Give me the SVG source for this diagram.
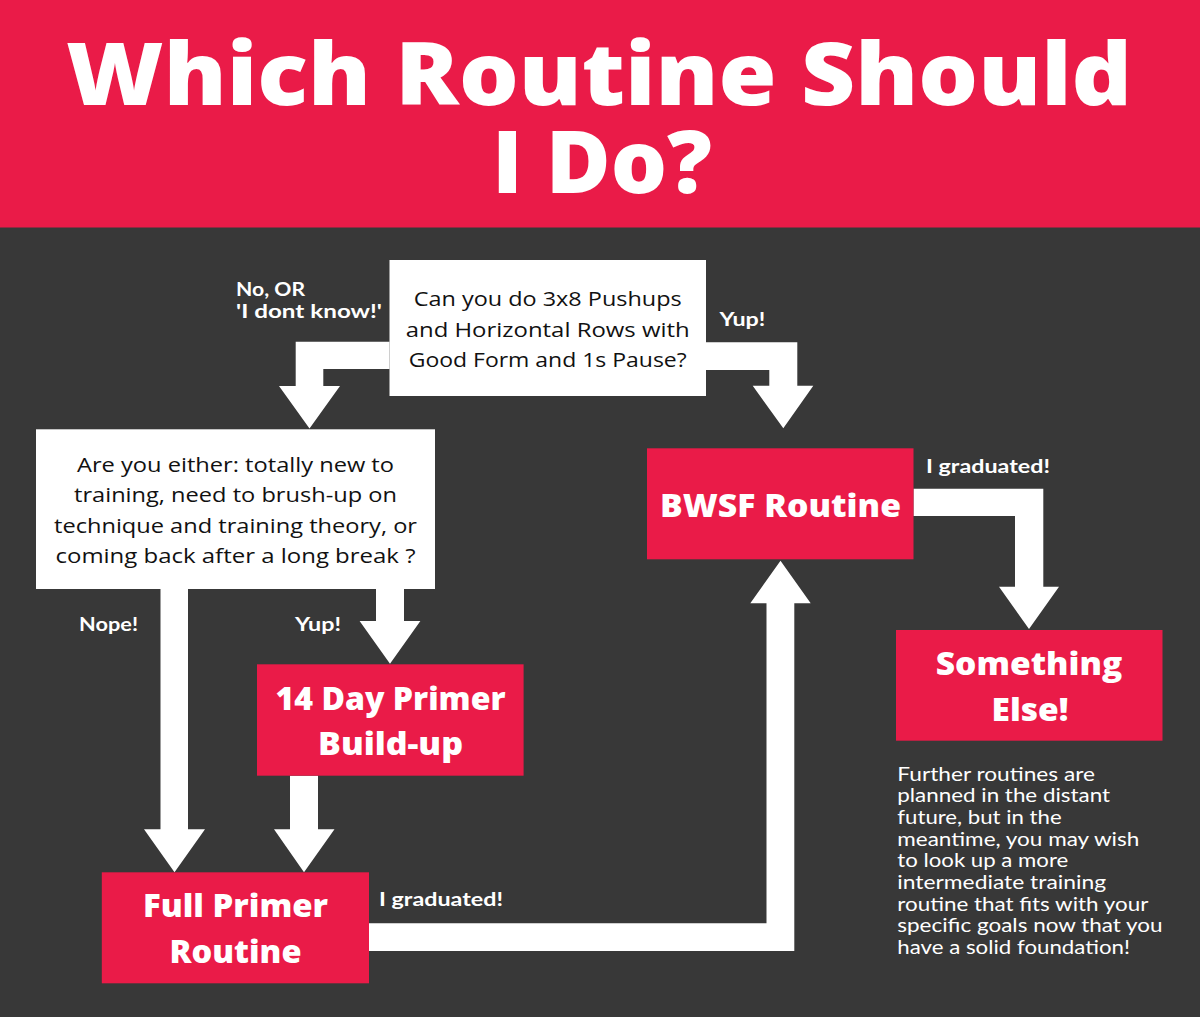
<svg xmlns="http://www.w3.org/2000/svg" width="1200" height="1017" viewBox="0 0 1200 1017">
<style>
.title{font-family:"Open Sans","Liberation Sans",sans-serif;font-weight:800;font-size:87px;fill:#fff;text-anchor:middle}
.q{font-family:"Open Sans","Liberation Sans",sans-serif;font-weight:500;font-size:20px;fill:#111;text-anchor:middle}
.n{font-family:"Open Sans","Liberation Sans",sans-serif;font-weight:800;font-size:31px;fill:#fff;text-anchor:middle}
.lbl{font-family:Lato,"Liberation Sans",sans-serif;font-weight:700;font-size:19px;fill:#fff}
.lbl2{font-family:Lato,"Liberation Sans",sans-serif;font-weight:700;font-size:18px;fill:#fff}
.desc{font-family:Lato,"Liberation Sans",sans-serif;font-weight:400;font-size:19.5px;fill:#fff}
.red{fill:#EA1B48}
.white{fill:#fff}
.conn{fill:#fff}
</style>
<rect x="0" y="0" width="1200" height="1017" fill="#383838"/>
<g id="header">
<rect x="0" y="0" width="1200" height="227.5" class="red"/>
<text class="title"><tspan x="599" y="105" textLength="1066" lengthAdjust="spacingAndGlyphs">Which Routine Should</tspan><tspan x="602" y="193" textLength="220" lengthAdjust="spacingAndGlyphs">I Do?</tspan></text>
</g>
<g id="connectors">
<polygon class="conn" points="389.5,341.7 295.7,341.7 295.7,386 279,386 309.5,428.5 340,386 323.3,386 323.3,369 389.5,369"/>
<polygon class="conn" points="706,342.3 797.3,342.3 797.3,385.7 813.3,385.7 783.3,428.3 752.7,385.7 769.3,385.7 769.3,370 706,370"/>
<polygon class="conn" points="160.5,589 188,589 188,829.3 205,829.3 174.5,872.3 144,829.3 160.5,829.3"/>
<polygon class="conn" points="376,589 404,589 404,621 420.4,621 390,663.7 359.6,621 376,621"/>
<polygon class="conn" points="290,775.7 318,775.7 318,829.3 334.5,829.3 304,872.3 274,829.3 290,829.3"/>
<polygon class="conn" points="369,923.3 766.5,923.3 766.5,603.3 750.3,603.3 780.5,560.7 810.7,603.3 794.3,603.3 794.3,951 369,951"/>
<polygon class="conn" points="913.5,488.7 1043.3,488.7 1043.3,586.7 1059,586.7 1029,629 999,586.7 1015,586.7 1015,516 913.5,516"/>
</g>
<g id="q1">
<rect x="389.5" y="260" width="316.5" height="136" class="white"/>
<text class="q" x="547.7" y="306" textLength="268" lengthAdjust="spacingAndGlyphs">Can you do 3x8 Pushups</text>
<text class="q" x="547.7" y="336.5" textLength="284" lengthAdjust="spacingAndGlyphs">and Horizontal Rows with</text>
<text class="q" x="547.7" y="367" textLength="278" lengthAdjust="spacingAndGlyphs">Good Form and 1s Pause?</text>
</g>
<g id="q2">
<rect x="36" y="429.3" width="399" height="159.7" class="white"/>
<text class="q" x="235.5" y="471.7" textLength="317" lengthAdjust="spacingAndGlyphs">Are you either: totally new to</text>
<text class="q" x="235.5" y="502" textLength="323" lengthAdjust="spacingAndGlyphs">training, need to brush-up on</text>
<text class="q" x="235.5" y="532.5" textLength="363" lengthAdjust="spacingAndGlyphs">technique and training theory, or</text>
<text class="q" x="235.5" y="563" textLength="360" lengthAdjust="spacingAndGlyphs">coming back after a long break ?</text>
</g>
<g id="primer14">
<rect x="257" y="664.3" width="266.6" height="111.4" class="red"/>
<text class="n" x="390.5" y="710" textLength="230" lengthAdjust="spacingAndGlyphs">14 Day Primer</text>
<text class="n" x="390.5" y="755" textLength="145" lengthAdjust="spacingAndGlyphs">Build-up</text>
</g>
<g id="fullprimer">
<rect x="101.8" y="872.3" width="267.2" height="111" class="red"/>
<text class="n" x="235.5" y="917.3" textLength="185" lengthAdjust="spacingAndGlyphs">Full Primer</text>
<text class="n" x="235.5" y="963.3" textLength="132" lengthAdjust="spacingAndGlyphs">Routine</text>
</g>
<g id="bwsf">
<rect x="647" y="448.3" width="266.5" height="111" class="red"/>
<text class="n" x="780.5" y="517.3" textLength="241" lengthAdjust="spacingAndGlyphs">BWSF Routine</text>
</g>
<g id="somethingelse">
<rect x="896" y="630" width="266.5" height="110.7" class="red"/>
<text class="n" x="1029" y="675" textLength="186.5" lengthAdjust="spacingAndGlyphs">Something</text>
<text class="n" x="1030" y="721" textLength="77" lengthAdjust="spacingAndGlyphs">Else!</text>
</g>
<g id="labels">
<text class="lbl2" x="236" y="295.5" textLength="69" lengthAdjust="spacingAndGlyphs">No, OR</text>
<text class="lbl2" x="236" y="317.5" textLength="146" lengthAdjust="spacingAndGlyphs">'I dont know!'</text>
<text class="lbl" x="719.4" y="325.5" textLength="46" lengthAdjust="spacingAndGlyphs">Yup!</text>
<text class="lbl" x="79" y="630.7" textLength="59" lengthAdjust="spacingAndGlyphs">Nope!</text>
<text class="lbl" x="295" y="630.7" textLength="46" lengthAdjust="spacingAndGlyphs">Yup!</text>
<text class="lbl" x="926" y="472.7" textLength="124" lengthAdjust="spacingAndGlyphs">I graduated!</text>
<text class="lbl" x="379" y="905.7" textLength="124" lengthAdjust="spacingAndGlyphs">I graduated!</text>
</g>
<g id="note">
<text class="desc" x="897.3" y="780.7" textLength="197.7" lengthAdjust="spacingAndGlyphs">Further routines are</text>
<text class="desc" x="897.3" y="802.4" textLength="212.7" lengthAdjust="spacingAndGlyphs">planned in the distant</text>
<text class="desc" x="897.3" y="824" textLength="164.3" lengthAdjust="spacingAndGlyphs">future, but in the</text>
<text class="desc" x="897.3" y="845.7" textLength="242" lengthAdjust="spacingAndGlyphs">meantime, you may wish</text>
<text class="desc" x="897.3" y="867.3" textLength="171" lengthAdjust="spacingAndGlyphs">to look up a more</text>
<text class="desc" x="897.3" y="889" textLength="208.7" lengthAdjust="spacingAndGlyphs">intermediate training</text>
<text class="desc" x="897.3" y="910.7" textLength="251" lengthAdjust="spacingAndGlyphs">routine that fits with your</text>
<text class="desc" x="897.3" y="932.3" textLength="265.3" lengthAdjust="spacingAndGlyphs">specific goals now that you</text>
<text class="desc" x="897.3" y="954" textLength="232.7" lengthAdjust="spacingAndGlyphs">have a solid foundation!</text>
</g>
</svg>
